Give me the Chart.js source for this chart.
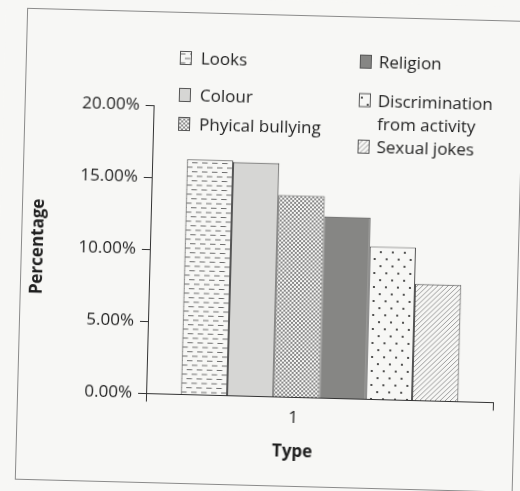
<!DOCTYPE html>
<html>
<head>
<meta charset="utf-8">
<script src="https://cdn.jsdelivr.net/npm/chart.js@4.4.1/dist/chart.umd.min.js"></script>
<style>
  html, body { margin: 0; padding: 0; background: #f7f7f5; overflow: hidden; }
  #wrap { width: 520px; height: 491px; transform: rotate(1.5deg); transform-origin: 260px 245.5px; }
  canvas { display: block; }
</style>
</head>
<body>
<div id="wrap"><canvas id="chart" width="520" height="491"></canvas></div>
<script>
const categories = ['1'];
const seriesLabels = ['Looks', 'Colour', 'Phyical bullying', 'Religion', ['Discrimination', 'from activity'], 'Sexual jokes'];
const seriesValues = [16.3, 16.2, 14.0, 12.6, 10.6, 8.1];
const yTicks = [0, 5, 10, 15, 20];

const paper = '#f7f7f5';
const ink = '#1f1f1f';
const axisInk = '#333';
const FONT = "'Open Sans', sans-serif";

const canvas = document.getElementById('chart');
const ctx = canvas.getContext('2d');

function makePattern(w, h, draw) {
  const c = document.createElement('canvas');
  c.width = w; c.height = h;
  const g = c.getContext('2d');
  g.fillStyle = paper;
  g.fillRect(0, 0, w, h);
  draw(g, w, h);
  return ctx.createPattern(c, 'repeat');
}

// fills, one per series
const fills = [
  // short staggered dashes
  makePattern(10, 9, g => {
    g.strokeStyle = '#6e6e6e'; g.lineWidth = 1;
    g.beginPath();
    g.moveTo(0, 2.5); g.lineTo(5.5, 2.5);
    g.moveTo(5, 7); g.lineTo(10, 7);
    g.moveTo(0, 7); g.lineTo(0.5, 7);
    g.stroke();
  }),
  '#d6d6d4',
  // fine cross-hatch
  makePattern(4, 4, g => {
    g.strokeStyle = '#8a8a8a'; g.lineWidth = 1;
    g.beginPath();
    g.moveTo(0, 0); g.lineTo(4, 4);
    g.moveTo(4, 0); g.lineTo(0, 4);
    g.stroke();
  }),
  '#868684',
  // sparse dots
  makePattern(12, 14, g => {
    g.fillStyle = '#2a2a2a';
    g.beginPath(); g.arc(3, 4, 1.1, 0, Math.PI * 2); g.fill();
    g.beginPath(); g.arc(9, 11, 1.1, 0, Math.PI * 2); g.fill();
  }),
  // diagonal hatch
  makePattern(5, 5, g => {
    g.strokeStyle = '#9a9a9a'; g.lineWidth = 1;
    g.beginPath();
    g.moveTo(-1, 6); g.lineTo(6, -1);
    g.moveTo(-1, 1); g.lineTo(1, -1);
    g.moveTo(4, 6); g.lineTo(6, 4);
    g.stroke();
  }),
];

// legend slots: swatch left x, text x, first-line centre y
const legendSlots = [
  { sx: 175, tx: 196, y: 60 },
  { sx: 175, tx: 196, y: 97 },
  { sx: 175, tx: 196, y: 126 },
  { sx: 355, tx: 374, y: 59 },
  { sx: 355, tx: 374, y: 97.5 },
  { sx: 355, tx: 374, y: 144 },
];

const pagePlugin = {
  id: 'page',
  beforeDraw(chart) {
    const c = chart.ctx;
    c.save();
    c.fillStyle = paper;
    c.fillRect(0, 0, chart.width, chart.height);
    c.strokeStyle = '#8a8a8a';
    c.lineWidth = 1;
    c.strokeRect(21.5, 14.5, 497, 471);
    c.restore();
  },
  afterDraw(chart) {
    const c = chart.ctx;
    c.save();
    c.font = `17px ${FONT}`;
    c.textAlign = 'left';
    chart.data.datasets.forEach((ds, i) => {
      const s = legendSlots[i];
      c.save();
      c.translate(s.sx, s.y - 6.5);
      c.fillStyle = ds.backgroundColor;
      c.fillRect(0, 0, 12, 13);
      c.restore();
      c.strokeStyle = '#555';
      c.lineWidth = 1;
      c.strokeRect(s.sx + 0.5, s.y - 6.5, 11, 13);
      c.fillStyle = ink;
      ds.lines.forEach((line, k) => c.fillText(line, s.tx, s.y + 6 + k * 23));
    });
    // x axis title
    const xs = chart.scales.x;
    c.font = `bold 17px ${FONT}`;
    c.textAlign = 'center';
    c.fillText('Type', (xs.left + xs.right) / 2 - 26, 456);
    c.restore();
  },
};

new Chart(canvas, {
  type: 'bar',
  data: {
    labels: categories,
    datasets: seriesLabels.map((lab, i) => ({
      label: [].concat(lab).join(' '),
      lines: [].concat(lab),
      data: [seriesValues[i]],
      backgroundColor: fills[i],
      borderColor: '#4a4a4a',
      borderWidth: 1,
      categoryPercentage: 0.8,
      barPercentage: 1.0,
    })),
  },
  options: {
    responsive: false,
    animation: false,
    layout: { padding: { left: 17, top: 108, right: 23, bottom: 0 } },
    plugins: { legend: { display: false }, tooltip: { enabled: false } },
    scales: {
      x: {
        afterFit: s => { s.height = 491 - 396.5; },
        border: { display: true, color: axisInk, width: 1 },
        grid: { drawOnChartArea: false, drawTicks: true, tickLength: 8, color: axisInk, offset: true },
        ticks: { color: ink, font: { family: FONT, size: 17 }, padding: 2, labelOffset: -26 },
      },
      y: {
        min: 0, max: 20,
        afterFit: s => { s.width = 133; },
        afterBuildTicks: s => { s.ticks = yTicks.map(v => ({ value: v })); },
        border: { display: true, color: axisInk, width: 1 },
        grid: { drawOnChartArea: false, drawTicks: true, tickLength: 8, color: axisInk },
        ticks: { color: ink, font: { family: FONT, size: 17 }, padding: 6, callback: v => v.toFixed(2) + '%' },
        title: { display: true, text: 'Percentage', color: ink, font: { family: FONT, size: 17, weight: 'bold' }, padding: { top: 11, bottom: 0 } },
      },
    },
  },
  plugins: [pagePlugin],
});
</script>
</body>
</html>
